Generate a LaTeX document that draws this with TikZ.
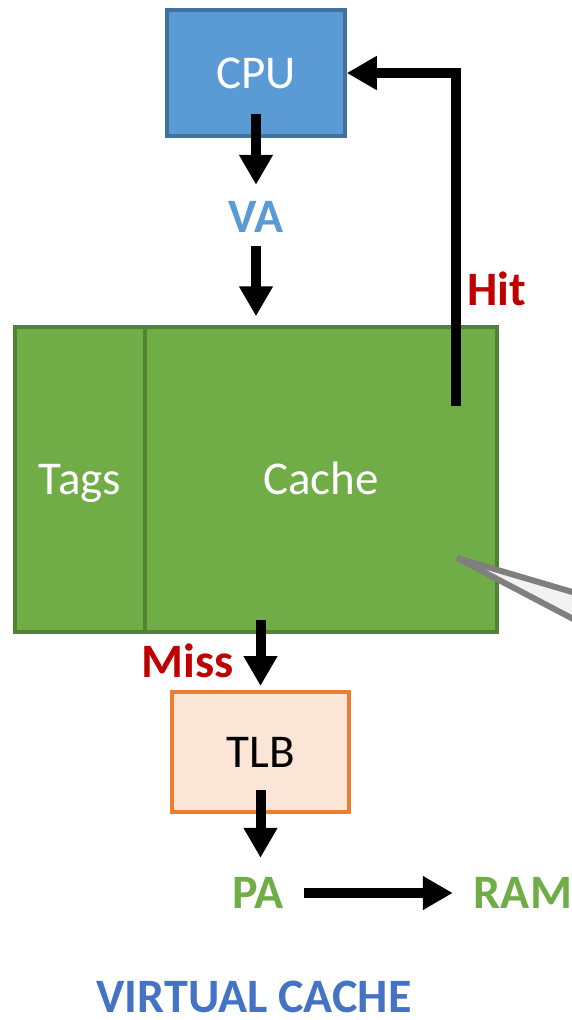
\documentclass[tikz,border=0pt]{standalone}
\usepackage{fontspec}
\setmainfont{Carlito}
\usetikzlibrary{arrows.meta,calc}
\definecolor{cpufill}{HTML}{5B9BD5}
\definecolor{cpuline}{HTML}{41719C}
\definecolor{grfill}{HTML}{70AD47}
\definecolor{grline}{HTML}{548235}
\definecolor{tlbfill}{HTML}{FBE5D6}
\definecolor{tlbline}{HTML}{ED7D31}
\definecolor{hitred}{HTML}{C00000}
\definecolor{titleblue}{HTML}{4472C4}
\definecolor{callgray}{HTML}{7F7F7F}
\definecolor{callfill}{HTML}{F2F2F2}
\tikzset{
  base/.style={inner sep=0pt, text height=30pt, text depth=0pt, font=\fontsize{47}{52}\selectfont},
  box/.style={base, draw, line width=3.5pt, anchor=center},
  lbl/.style={base, minimum height=60pt, font=\fontsize{48}{52}\selectfont\bfseries},
  arr/.style={line width=10pt, -{Triangle[width=32pt,length=30pt]}},
  wedgefill/.style={fill=callfill},
  wedgeline/.style={draw=callgray, line width=6pt, line cap=butt},
}
\begin{document}
\begin{tikzpicture}[x=1pt,y=-1pt]
\useasboundingbox (0,0) rectangle (572,1020);
\clip (0,0) rectangle (572,1020);
% boxes
\node[box, fill=cpufill, draw=cpuline, text=white, minimum width=178pt, minimum height=126pt] (cpu) at (256,73) {CPU};
\node[box, fill=grfill, draw=grline, text=white, minimum width=130pt, minimum height=305pt] (tags) at (80,479.5) {Tags};
\node[box, fill=grfill, draw=grline, text=white, minimum width=352pt, minimum height=305pt] (cache) at (321,479.5) {Cache};
\node[box, fill=tlbfill, draw=tlbline, text=black, line width=4pt, minimum width=177pt, minimum height=120pt] (tlb) at (260.5,752) {TLB};
% callout wedge
\coordinate (wtip) at (457,558);
\coordinate (wup) at (640,612);
\coordinate (wlo) at (640,654);
\fill[wedgefill] (wtip) -- (wup) -- (wlo) -- cycle;
\draw[wedgeline] (wtip) -- (wup);
\draw[wedgeline] (wtip) -- (wlo);
% labels
\node[lbl, text=cpufill] (va) at (256,217) {VA};
\node[lbl, text=hitred] (hit) at (497,290) {Hit};
\node[lbl, text=hitred] (miss) at (188,662) {Miss};
\node[lbl, text=grfill] (pa) at (258,893) {PA};
\node[lbl, text=grfill] (ram) at (523,893) {RAM};
\node[lbl, text=titleblue, minimum height=0pt] (title) at (254,997) {VIRTUAL CACHE};
% arrows
\draw[arr] ([yshift=24pt]cpu.south) -- ([yshift=2pt]va.north);
\draw[arr] ([yshift=1pt]va.south) -- ([yshift=9pt]cache.north -| va.south);
\draw[arr] ([yshift=14pt]cache.south -| tlb.north) -- ([yshift=4pt]tlb.north);
\draw[arr] ([yshift=24pt]tlb.south) -- ([yshift=5pt]pa.north -| tlb.south);
\draw[arr] ([xshift=20pt]pa.east) -- ([xshift=-21pt]ram.west);
\draw[arr] ([xshift=-43pt,yshift=-81pt]cache.north east) |- (cpu.east);
\end{tikzpicture}
\end{document}
